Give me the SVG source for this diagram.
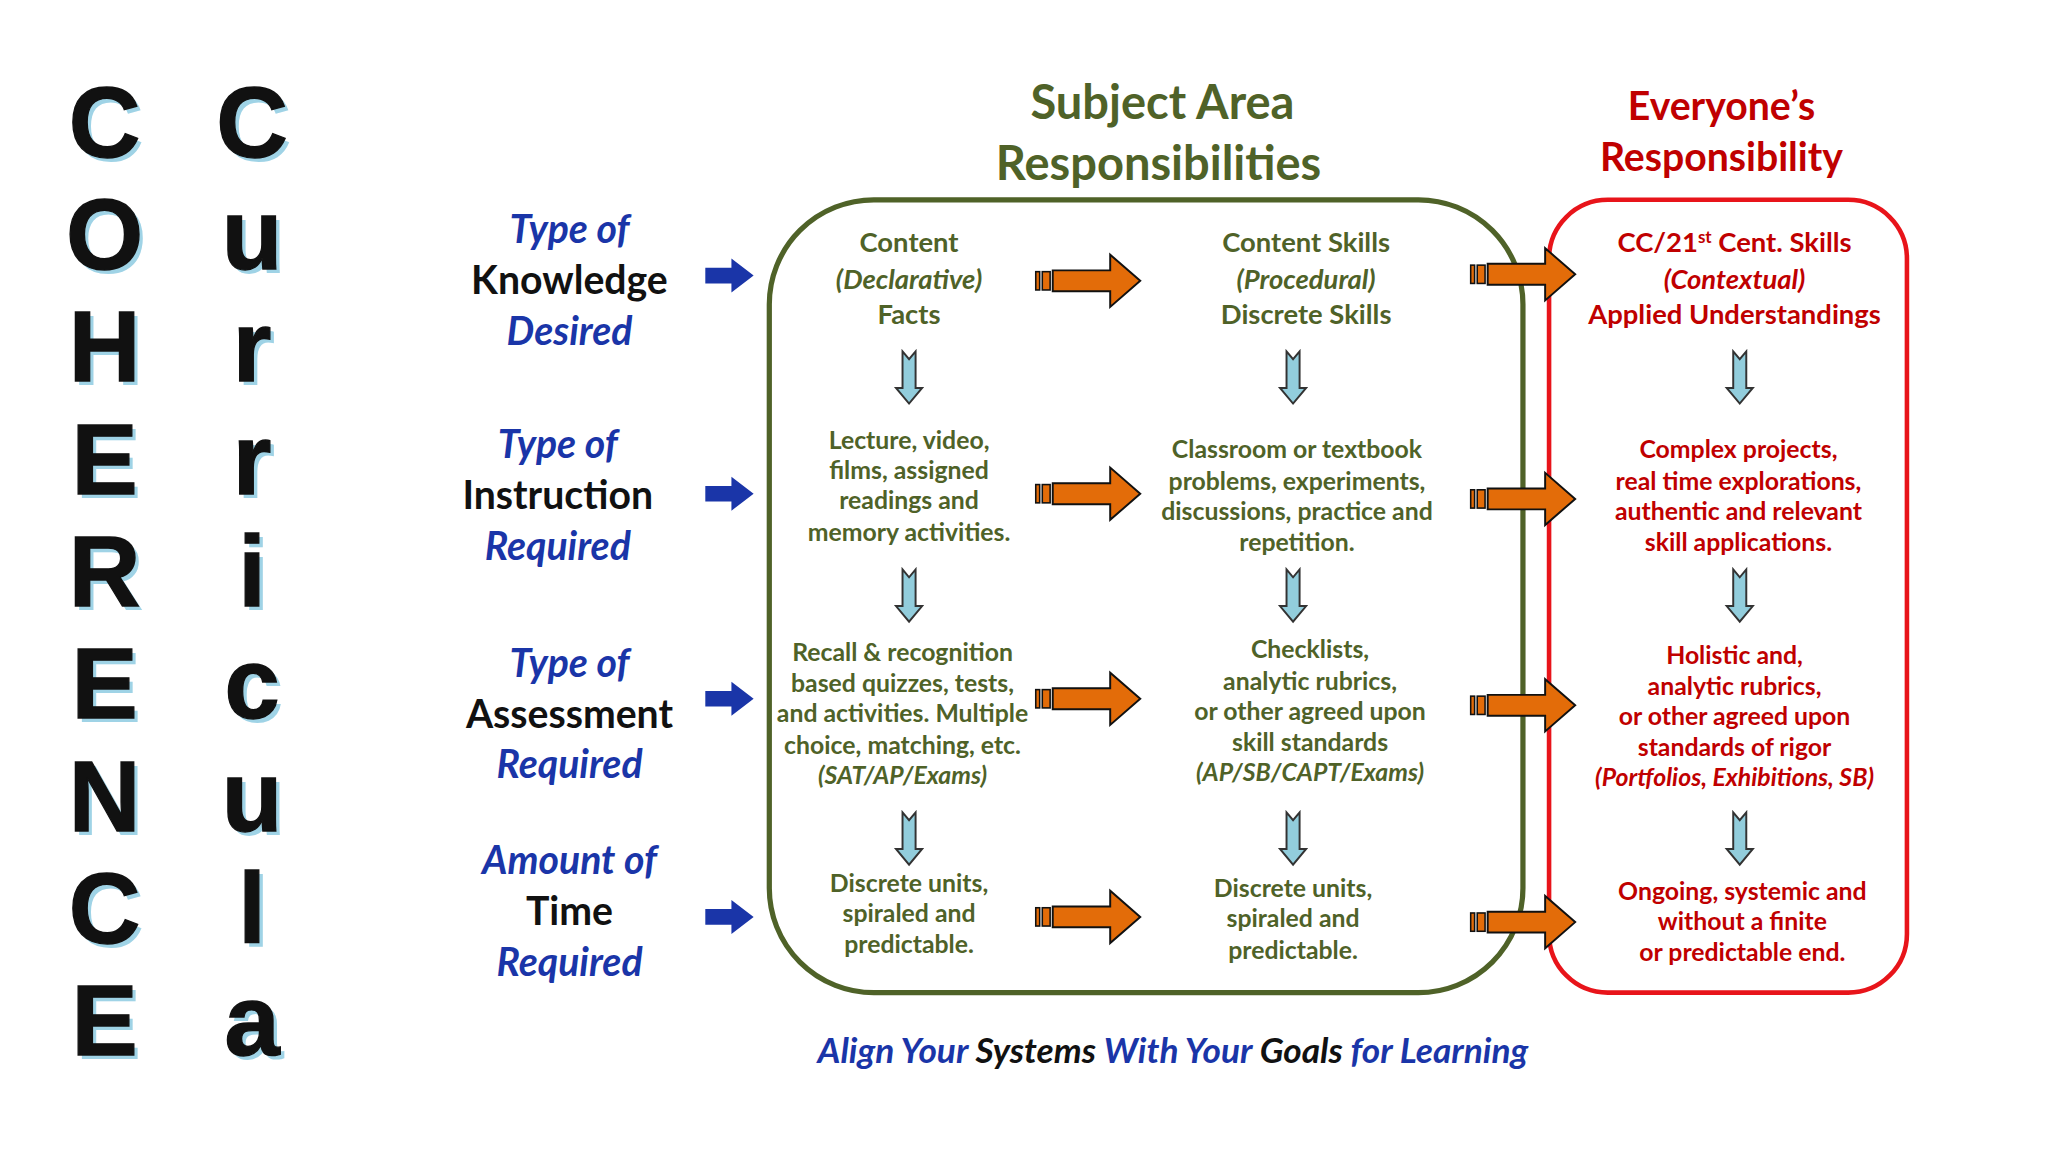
<svg xmlns="http://www.w3.org/2000/svg" width="2048" height="1152" viewBox="0 0 2048 1152">
<defs>
<style>
.big{font-family:"Liberation Sans",Arial,sans-serif;font-weight:bold;font-size:76px;fill:#111;stroke:#111;stroke-width:1;text-anchor:middle}
.bigs{font-family:"Liberation Sans",Arial,sans-serif;font-weight:bold;font-size:76px;fill:#9fd3e6;text-anchor:middle}
.lbl{font-family:Lato,"Open Sans",sans-serif;font-weight:bold;font-size:30px;text-anchor:middle}
.bl{fill:#1a35a8;font-style:italic}
.bk{fill:#111}
.g{font-family:Lato,"Open Sans",sans-serif;font-weight:bold;font-size:19px;fill:#4f6228;text-anchor:middle}
.gh{font-size:21px}
.r{font-family:Lato,"Open Sans",sans-serif;font-weight:bold;font-size:19px;fill:#c00000;text-anchor:middle}
.it{font-style:italic}
</style>
<g id="oarrow">
<rect x="0" y="-7" width="3" height="14" fill="#e36c09" stroke="#111" stroke-width="1.2"/>
<rect x="5" y="-7" width="6" height="14" fill="#e36c09" stroke="#111" stroke-width="1.2"/>
<path d="M13,-8 H57 V-20 L80,0 L57,20 V8 H13 Z" fill="#e36c09" stroke="#111" stroke-width="1.5"/>
</g>
<g id="darrow">
<path d="M-5,0 L0,6 L5,0 V28 H10 L0,40 L-10,28 H-5 Z" fill="#92cddc" stroke="#333" stroke-width="1.5"/>
</g>
<g id="barrow">
<path d="M0,-6 H20 V-13 L37,0 L20,13 V6 H0 Z" fill="#1a35a8"/>
</g>
</defs>
<rect width="2048" height="1152" fill="#fff"/>
<g transform="scale(1.30612)">
<g id="coherence">
<text class="bigs" x="83" y="123">C</text><text class="big" x="80" y="120">C</text>
<text class="bigs" x="83" y="209">O</text><text class="big" x="80" y="206">O</text>
<text class="bigs" x="83" y="295">H</text><text class="big" x="80" y="292">H</text>
<text class="bigs" x="83" y="381">E</text><text class="big" x="80" y="378">E</text>
<text class="bigs" x="83" y="467">R</text><text class="big" x="80" y="464">R</text>
<text class="bigs" x="83" y="553">E</text><text class="big" x="80" y="550">E</text>
<text class="bigs" x="83" y="639">N</text><text class="big" x="80" y="636">N</text>
<text class="bigs" x="83" y="725">C</text><text class="big" x="80" y="722">C</text>
<text class="bigs" x="83" y="811">E</text><text class="big" x="80" y="808">E</text>
</g>
<g id="curricula">
<text class="bigs" x="196" y="123">C</text><text class="big" x="193" y="120">C</text>
<text class="bigs" x="196" y="209">u</text><text class="big" x="193" y="206">u</text>
<text class="bigs" x="196" y="295">r</text><text class="big" x="193" y="292">r</text>
<text class="bigs" x="196" y="381">r</text><text class="big" x="193" y="378">r</text>
<text class="bigs" x="196" y="467">i</text><text class="big" x="193" y="464">i</text>
<text class="bigs" x="196" y="553">c</text><text class="big" x="193" y="550">c</text>
<text class="bigs" x="196" y="639">u</text><text class="big" x="193" y="636">u</text>
<text class="bigs" x="196" y="725">l</text><text class="big" x="193" y="722">l</text>
<text class="bigs" x="196" y="811">a</text><text class="big" x="193" y="808">a</text>
</g>
<g id="headers">
<text class="lbl" x="890" y="91" style="fill:#4f6228;font-size:36px">Subject Area</text>
<text class="lbl" x="887" y="138" style="fill:#4f6228;font-size:36px">Responsibilities</text>
<text class="lbl" x="1318" y="92" style="fill:#c00000;font-size:30px">Everyone’s</text>
<text class="lbl" x="1318" y="131" style="fill:#c00000;font-size:30px">Responsibility</text>
</g>
<g id="rowlabels">
<text class="lbl bl" x="436" y="186">Type of</text>
<text class="lbl bk" x="436" y="225">Knowledge</text>
<text class="lbl bl" x="436" y="264">Desired</text>
<text class="lbl bl" x="427" y="351">Type of</text>
<text class="lbl bk" x="427" y="390">Instruction</text>
<text class="lbl bl" x="427" y="429">Required</text>
<text class="lbl bl" x="436" y="518">Type of</text>
<text class="lbl bk" x="436" y="557">Assessment</text>
<text class="lbl bl" x="436" y="596">Required</text>
<text class="lbl bl" x="436" y="669">Amount of</text>
<text class="lbl bk" x="436" y="708">Time</text>
<text class="lbl bl" x="436" y="747">Required</text>
</g>
<g id="boxes">
<rect x="589" y="153" width="577" height="607" rx="80" fill="none" stroke="#4f6228" stroke-width="4"/>
<rect x="1186" y="153" width="274" height="607" rx="45" fill="none" stroke="#e8141a" stroke-width="3.5"/>
</g>
<g id="col1">
<text class="g gh" x="696" y="193">Content</text>
<text class="g gh it" x="696" y="221">(Declarative)</text>
<text class="g gh" x="696" y="248">Facts</text>
<text class="g" x="696" y="344">Lecture, video,</text>
<text class="g" x="696" y="367">films, assigned</text>
<text class="g" x="696" y="390">readings and</text>
<text class="g" x="696" y="414">memory activities.</text>
<text class="g" x="691" y="506">Recall &amp; recognition</text>
<text class="g" x="691" y="530">based quizzes, tests,</text>
<text class="g" x="691" y="553">and activities. Multiple</text>
<text class="g" x="691" y="577">choice, matching, etc.</text>
<text class="g it" x="691" y="600">(SAT/AP/Exams)</text>
<text class="g" x="696" y="683">Discrete units,</text>
<text class="g" x="696" y="706">spiraled and</text>
<text class="g" x="696" y="730">predictable.</text>
</g>
<g id="col2">
<text class="g gh" x="1000" y="193">Content Skills</text>
<text class="g gh it" x="1000" y="221">(Procedural)</text>
<text class="g gh" x="1000" y="248">Discrete Skills</text>
<text class="g" x="993" y="351">Classroom or textbook</text>
<text class="g" x="993" y="375">problems, experiments,</text>
<text class="g" x="993" y="398">discussions, practice and</text>
<text class="g" x="993" y="422">repetition.</text>
<text class="g" x="1003" y="504">Checklists,</text>
<text class="g" x="1003" y="528">analytic rubrics,</text>
<text class="g" x="1003" y="551">or other agreed upon</text>
<text class="g" x="1003" y="575">skill standards</text>
<text class="g it" x="1003" y="598">(AP/SB/CAPT/Exams)</text>
<text class="g" x="990" y="687">Discrete units,</text>
<text class="g" x="990" y="710">spiraled and</text>
<text class="g" x="990" y="734">predictable.</text>
</g>
<g id="col3">
<text class="r" x="1328" y="193" style="font-size:21px">CC/21<tspan dy="-7" font-size="13">st</tspan><tspan dy="7"> Cent. Skills</tspan></text>
<text class="r it" x="1328" y="221" style="font-size:21px">(Contextual)</text>
<text class="r" x="1328" y="248" style="font-size:21px">Applied Understandings</text>
<text class="r" x="1331" y="351">Complex projects,</text>
<text class="r" x="1331" y="375">real time explorations,</text>
<text class="r" x="1331" y="398">authentic and relevant</text>
<text class="r" x="1331" y="422">skill applications.</text>
<text class="r" x="1328" y="508">Holistic and,</text>
<text class="r" x="1328" y="532">analytic rubrics,</text>
<text class="r" x="1328" y="555">or other agreed upon</text>
<text class="r" x="1328" y="579">standards of rigor</text>
<text class="r it" x="1328" y="602">(Portfolios, Exhibitions, SB)</text>
<text class="r" x="1334" y="689">Ongoing, systemic and</text>
<text class="r" x="1334" y="712">without a finite</text>
<text class="r" x="1334" y="736">or predictable end.</text>
</g>
<g id="connectors">
<use href="#barrow" x="540" y="211"/>
<use href="#barrow" x="540" y="378"/>
<use href="#barrow" x="540" y="535"/>
<use href="#barrow" x="540" y="702"/>
<use href="#oarrow" x="793" y="215"/>
<use href="#oarrow" x="793" y="378"/>
<use href="#oarrow" x="793" y="535"/>
<use href="#oarrow" x="793" y="702"/>
<use href="#oarrow" x="1126" y="210"/>
<use href="#oarrow" x="1126" y="382"/>
<use href="#oarrow" x="1126" y="540"/>
<use href="#oarrow" x="1126" y="706"/>
<use href="#darrow" x="696" y="269"/>
<use href="#darrow" x="990" y="269"/>
<use href="#darrow" x="1332" y="269"/>
<use href="#darrow" x="696" y="436"/>
<use href="#darrow" x="990" y="436"/>
<use href="#darrow" x="1332" y="436"/>
<use href="#darrow" x="696" y="622"/>
<use href="#darrow" x="990" y="622"/>
<use href="#darrow" x="1332" y="622"/>
</g>
<g id="footer">
<text class="lbl" x="898" y="814" style="font-size:27px"><tspan class="bl">Align Your </tspan><tspan class="bk" font-style="italic">Systems </tspan><tspan class="bl">With Your </tspan><tspan class="bk" font-style="italic">Goals </tspan><tspan class="bl">for Learning</tspan></text>
</g>
</g>
</svg>
